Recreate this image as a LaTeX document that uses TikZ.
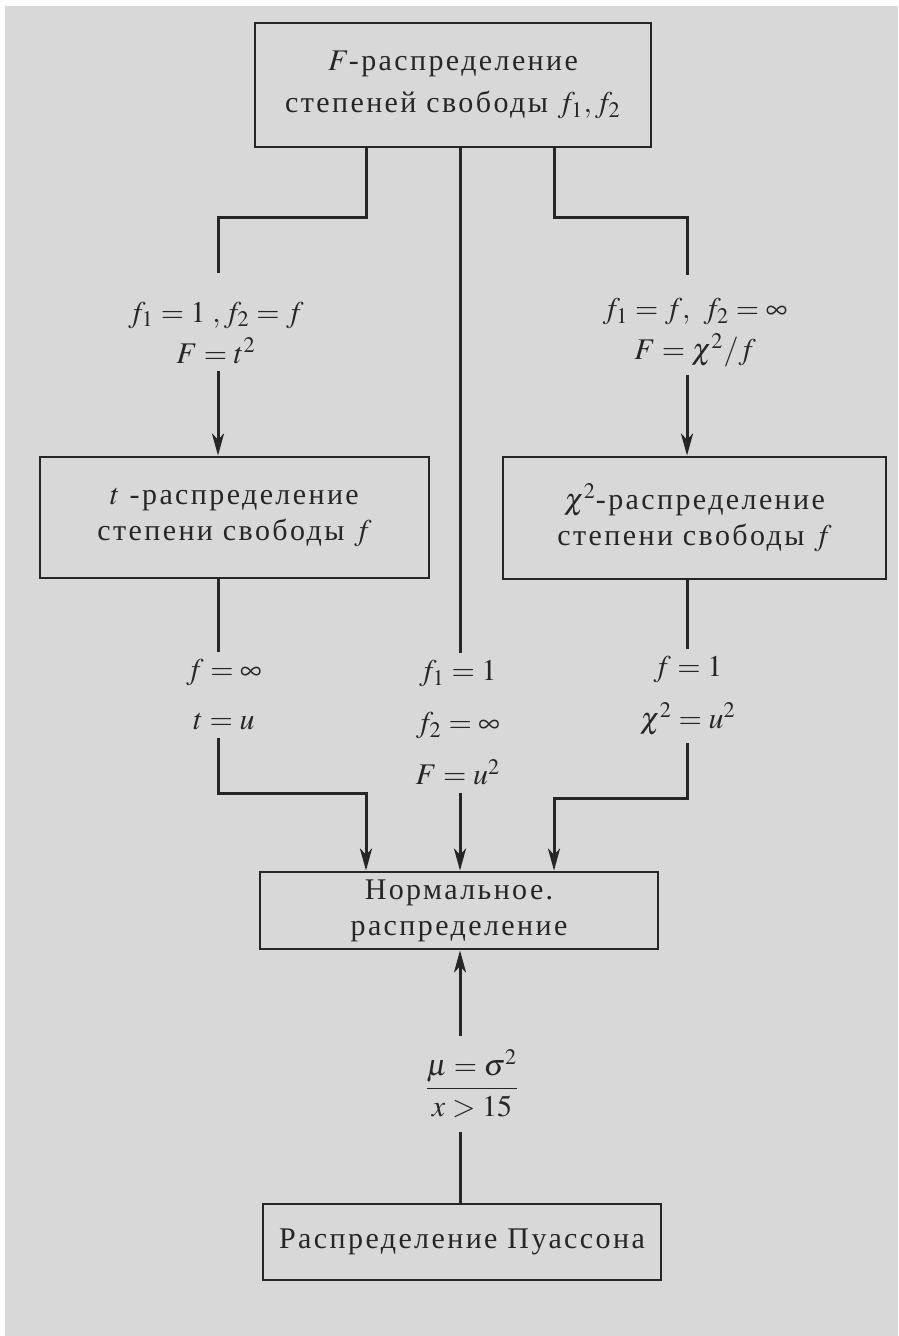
\documentclass[tikz,border=0pt]{standalone}
\usepackage{amsmath}
\usepackage{mathptmx}
\usepackage{fontspec}
\setmainfont{Liberation Serif}
\newfontfamily\rufont{Liberation Serif}[LetterSpace=8]
\usetikzlibrary{arrows.meta}
\definecolor{paper}{HTML}{D8D8D8}
\definecolor{ink}{HTML}{262626}

\begin{document}
\begin{tikzpicture}[x=0.5pt,y=-0.5pt,
  every node/.style={text=ink, font=\rufont\fontsize{15}{18}\selectfont},
  box/.style={draw=ink, line width=1.4pt, align=center, inner sep=0pt},
  cond/.style={align=center, inner sep=3.5pt},
  conn/.style={draw=ink, line width=1.5pt},
  arr/.style={conn, -{Stealth[length=11pt,width=6pt,inset=3pt]}}]
\useasboundingbox (0,0) rectangle (898,1336);
\fill[paper] (5,6) rectangle (898,1336);

\node[box, minimum width=198pt, minimum height=62pt] (Fdist) at (453,85)
  {$F$-распределение\\[3pt] степеней свободы $f_1, f_2$};
\node[box, minimum width=194.5pt, minimum height=60.5pt] (tdist) at (234.5,517.5)
  {$t$ -распределение\\ степени свободы $f$};
\node[box, minimum width=191.5pt, minimum height=61pt] (chidist) at (694.5,518)
  {$\chi^2$-распределение\\ степени свободы $f$};
\node[box, minimum width=199pt, minimum height=38.5pt] (normal) at (459,910.5)
  {Нормальное.\\ распределение};
\node[box, minimum width=199pt, minimum height=38pt] (poisson) at (462,1242)
  {Распределение Пуассона};

% branch points on the F box
\coordinate (Fl) at (366,147);
\coordinate (Fm) at (460,147);
\coordinate (Fr) at (554,147);
\coordinate (tIn) at (218,273);
\coordinate (chiIn) at (687,275);

\node[cond] (lblT) at (216,333) {$f_1=1\;,f_2=f$\\[2.5pt] $F=t^2$};
\node[cond] (lblChi) at (695,333) {$f_1=f,\ f_2=\infty$\\[2.5pt] $F=\chi^2/f$};
\node[cond] (lblTN) at (224,695) {$f=\infty$\\[7pt] $t=u$};
\node[cond] (lblFN) at (458,723) {$f_1=1$\\[8pt] $f_2=\infty$\\[8pt] $F=u^2$};
\node[cond] (lblChiN) at (688,696) {$f=1$\\[8pt] $\chi^2=u^2$};
\node[cond, inner sep=7pt] (lblPN) at (472,1084) {$\dfrac{\mu=\sigma^2}{x>15}$};

\draw[conn] (Fl) -- ++(0,71) -| (tIn);
\draw[conn] (Fr) -- ++(0,71) -| (chiIn);
\draw[conn] (Fm) -- (Fm |- lblFN.north);

\draw[arr] (tIn |- lblT.south) -- (tIn |- tdist.north);
\draw[arr] (chiIn |- lblChi.south) -- (chiIn |- chidist.north);

\draw[conn] (tIn |- tdist.south) -- (tIn |- lblTN.north);
\draw[conn] (chiIn |- chidist.south) -- (chiIn |- lblChiN.north);

\draw[arr] (tIn |- lblTN.south) -- ++(0,56) -| (normal.north -| Fl);
\draw[arr] (Fm |- lblFN.south) -- (Fm |- normal.north);
\draw[arr] (chiIn |- lblChiN.south) -- ++(0,56) -| (normal.north -| Fr);

% Poisson -> normal
\draw[conn] (poisson.north -| Fm) -- (Fm |- lblPN.south);
\draw[arr] (Fm |- lblPN.north) -- (Fm |- normal.south);
\end{tikzpicture}
\end{document}
